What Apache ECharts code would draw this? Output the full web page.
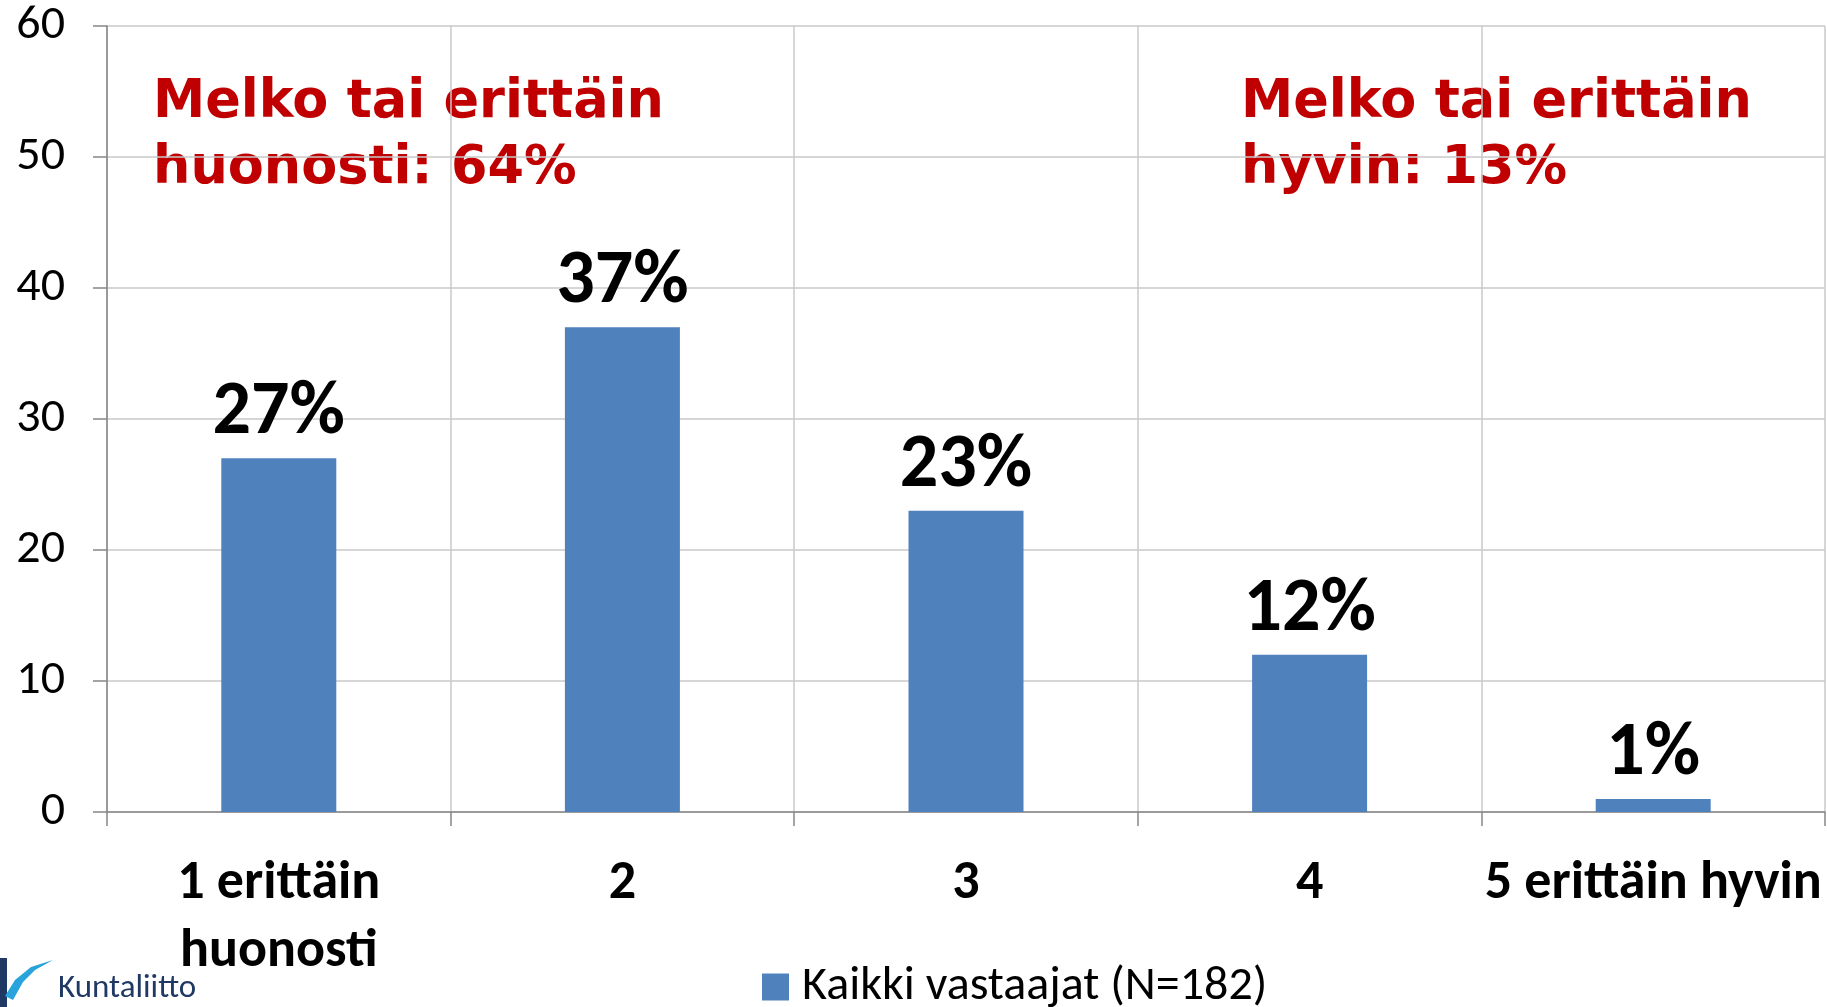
<!DOCTYPE html>
<html>
<head>
<meta charset="utf-8">
<script src="https://cdn.jsdelivr.net/npm/echarts@6/dist/echarts.min.js"></script>
<style>
html, body { margin: 0; padding: 0; background: #fff; }
#chart { width: 1827px; height: 1007px; }
</style>
</head>
<body>
<div id="chart"></div>
<script>
var categories = ['1 erittäin\nhuonosti', '2', '3', '4', '5 erittäin hyvin'];
var values = [27, 37, 23, 12, 1];
var seriesName = 'Kaikki vastaajat (N=182)';
var noteLeft = 'Melko tai erittäin\nhuonosti: 64%';
var noteRight = 'Melko tai erittäin\nhyvin: 13%';

var baseFont = 'Carlito, "Liberation Sans Narrow", "Open Sans", sans-serif';
var chart = echarts.init(document.getElementById('chart'));

var option = {
    animation: false,
    backgroundColor: '#fff',
    grid: { left: 107, right: 2, top: 26, bottom: 195 },
    legend: {
        data: [seriesName],
        left: 757,
        top: 958,
        itemWidth: 27,
        itemHeight: 27,
        icon: 'rect',
        textStyle: { fontFamily: baseFont, fontSize: 48, color: '#000', padding: [0, 0, 0, 8] }
    },
    xAxis: {
        type: 'category',
        data: categories,
        axisLine: { lineStyle: { color: '#868686', width: 1.5 } },
        axisTick: { show: true, length: 14, lineStyle: { color: '#868686', width: 1.5 } },
        splitLine: { show: true, lineStyle: { color: '#c8c8c8', width: 1.5 } },
        axisLabel: {
            margin: 38,
            fontFamily: baseFont,
            fontWeight: 'bold',
            fontSize: 54,
            lineHeight: 68,
            color: '#000',
            interval: 0
        }
    },
    yAxis: {
        type: 'value',
        min: 0,
        max: 60,
        interval: 10,
        axisLine: { show: true, lineStyle: { color: '#868686', width: 1.5 } },
        axisTick: { show: true, length: 14, lineStyle: { color: '#868686', width: 1.5 } },
        splitLine: { lineStyle: { color: '#c8c8c8', width: 1.5 } },
        axisLabel: {
            margin: 42,
            fontFamily: baseFont,
            fontSize: 48,
            color: '#000'
        }
    },
    series: [{
        name: seriesName,
        type: 'bar',
        data: values,
        barWidth: 115,
        itemStyle: { color: '#4f81bd' },
        label: {
            show: true,
            position: 'top',
            distance: 6,
            formatter: '{c}%',
            fontFamily: baseFont,
            fontWeight: 'bold',
            fontSize: 76,
            color: '#000'
        }
    }],
    graphic: [
        {
            type: 'text', left: 153, top: 70,
            style: {
                text: noteLeft,
                font: 'bold 52.5px "DejaVu Sans", sans-serif',
                fill: '#c00000',
                lineHeight: 66
            }
        },
        {
            type: 'text', left: 1241, top: 70,
            style: {
                text: noteRight,
                font: 'bold 52.5px "DejaVu Sans", sans-serif',
                fill: '#c00000',
                lineHeight: 66
            }
        },
        {
            type: 'rect', left: 0, top: 958,
            shape: { width: 7, height: 49 },
            style: { fill: '#1f3864' }
        },
        {
            type: 'polygon', left: 5, top: 960,
            shape: { points: [[0, 36], [10, 20], [26, 7], [48, 0], [30, 10], [18, 22], [8, 40]] },
            style: { fill: '#29a3dc' }
        },
        {
            type: 'text', left: 58, top: 972,
            style: {
                text: 'Kuntaliitto',
                font: '33px ' + baseFont,
                fill: '#1f3864'
            }
        }
    ]
};

chart.setOption(option);
</script>
</body>
</html>
